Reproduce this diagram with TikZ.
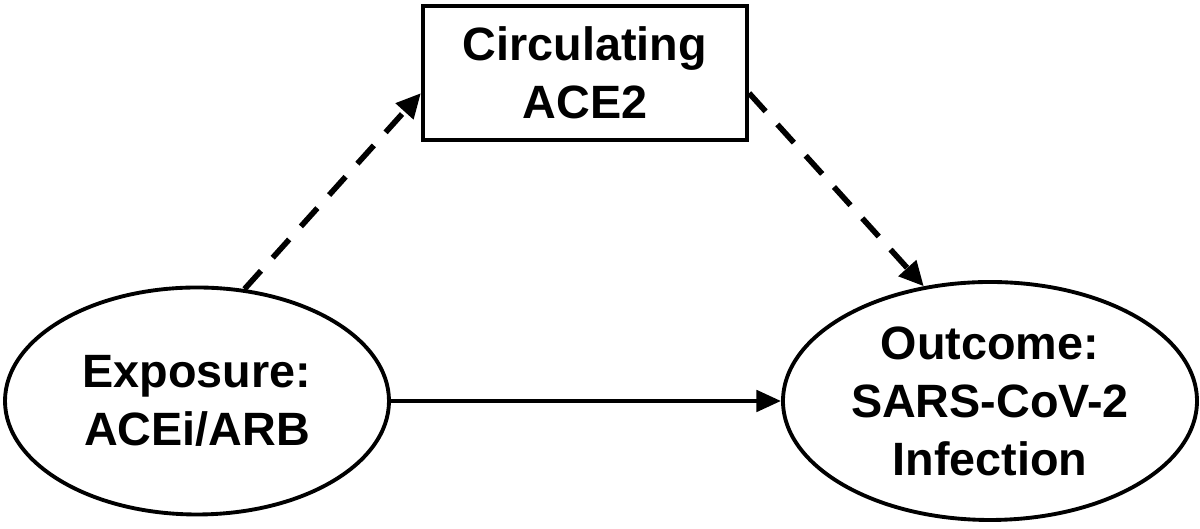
\documentclass[tikz,border=0pt]{standalone}
\usepackage{fontspec}
\setmainfont{Liberation Sans}
\usetikzlibrary{arrows.meta,positioning,shapes.geometric,calc}

\begin{document}
\begin{tikzpicture}[every node/.style={draw,align=center,font=\bfseries\fontsize{13.3}{16.5}\selectfont},
    oval/.style={ellipse,line width=1.1pt,inner sep=0pt},
    dashline/.style={-{Triangle[length=7pt,width=6.5pt]},line width=1.6pt,dash pattern=on 7pt off 5pt}]
      \useasboundingbox (0,0) rectangle (12,5.29);
      \node[oval,minimum width=3.84cm,minimum height=2.27cm] (exp) at (1.97,1.28) {Exposure:\\ACEi/ARB};
      \node[oval,minimum width=4.14cm,minimum height=2.38cm] (out) at (9.90,1.28) {Outcome:\\SARS-CoV-2\\Infection};
      \node[rectangle,line width=1.2pt,minimum width=3.24cm,minimum height=1.34cm,inner sep=0pt] (ace) at (5.85,4.56) {Circulating\\ACE2};
      \draw[dashline] (exp.67)--(ace.187);
      \draw[dashline] (ace.-7)--(out.120);
      \draw[-{Triangle[length=7pt,width=6pt]},line width=1.3pt] (exp)--(out);
    \end{tikzpicture}
\end{document}
